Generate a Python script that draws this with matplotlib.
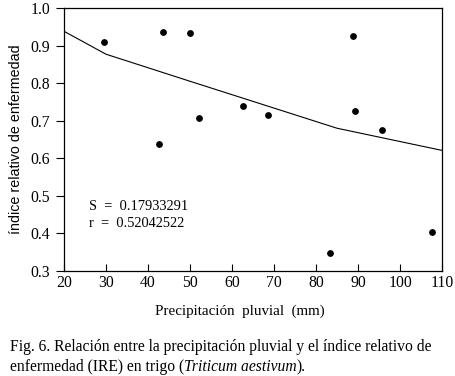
import matplotlib
matplotlib.use("Agg")
import matplotlib.pyplot as plt

# observed points (precipitation mm, disease index)
precip = [29.4, 42.7, 43.6, 50.0, 52.2, 62.7, 68.6, 83.3, 88.9, 89.2, 95.8, 107.5]
ire = [0.910, 0.638, 0.937, 0.934, 0.706, 0.740, 0.715, 0.348, 0.926, 0.727, 0.674, 0.405]

# fitted curve
fit_x = [20, 30, 50, 85, 110]
fit_y = [0.938, 0.877, 0.805, 0.680, 0.621]

xticks = [20, 30, 40, 50, 60, 70, 80, 90, 100, 110]
yticks = [0.3, 0.4, 0.5, 0.6, 0.7, 0.8, 0.9, 1.0]

serif = "Liberation Serif"
sans = "Liberation Sans"
cap_fs = 11.25

fig = plt.figure(figsize=(4.56, 3.76), dpi=100)
ax = fig.add_axes([0.1404, 0.2793, 0.8289, 0.6994])

ax.plot(fit_x, fit_y, color="black", lw=0.8)
ax.scatter(precip, ire, s=15, color="black", zorder=3)

ax.set_xlim(20, 110)
ax.set_ylim(0.3, 1.0)
ax.set_xticks(xticks)
ax.set_yticks(yticks)
ax.set_xticklabels([str(v) for v in xticks], fontfamily=serif, fontsize=11.3)
ax.set_yticklabels([f"{v:.1f}" for v in yticks], fontfamily=serif, fontsize=11.3)
ax.tick_params(axis="x", direction="in", length=5, width=0.8, pad=3)
ax.tick_params(axis="y", direction="out", length=6, width=0.8, pad=4)
for sp in ax.spines.values():
    sp.set_linewidth(0.9)

ax.set_ylabel("índice relativo de enfermedad", fontfamily=sans, fontsize=10.3, labelpad=5)
ax.set_xlabel("Precipitación  pluvial  (mm)", fontfamily=serif, fontsize=10.8)
ax.xaxis.set_label_coords(0.466, -0.128)

ax.text(26.0, 0.471, "S  =  0.17933291", fontfamily=serif, fontsize=10.4, va="center")
ax.text(26.0, 0.427, "r  =  0.52042522", fontfamily=serif, fontsize=10.4, va="center")

fig.text(0.022, 0.077, "Fig. 6. Relación entre la precipitación pluvial y el índice relativo de",
         fontfamily=serif, fontsize=cap_fs, va="center")
t = fig.text(0.022, 0.024, "enfermedad (IRE) en trigo (", fontfamily=serif, fontsize=cap_fs,
             va="center")
fig.canvas.draw()
x1 = t.get_window_extent().x1 / fig.bbox.width
t2 = fig.text(x1, 0.024, "Triticum aestivum", fontfamily=serif, fontsize=cap_fs,
              style="italic", va="center")
fig.canvas.draw()
x2 = t2.get_window_extent().x1 / fig.bbox.width
fig.text(x2, 0.024, ").", fontfamily=serif, fontsize=cap_fs, va="center")

fig.savefig("out.png", dpi=100)
